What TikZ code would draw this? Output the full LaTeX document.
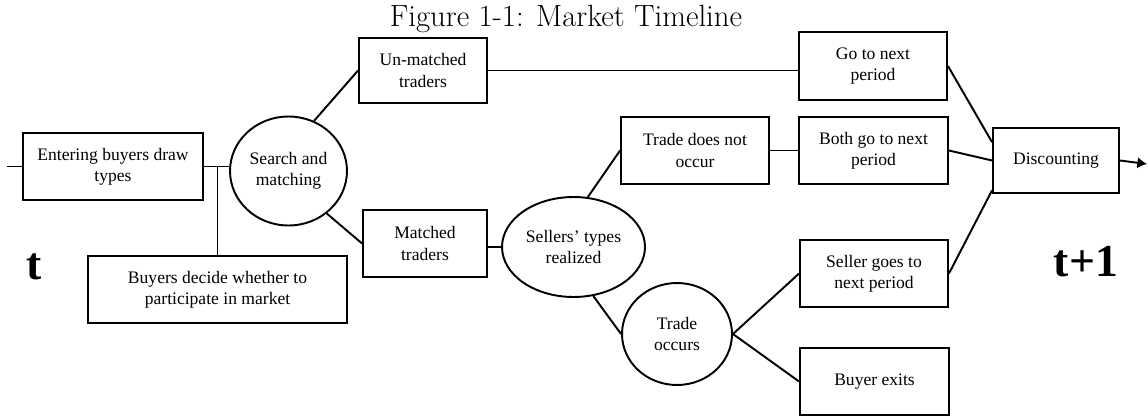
\documentclass[tikz,border=0pt]{standalone}
\usepackage{fontspec}
\newfontfamily\timesfont{Liberation Serif}
\usetikzlibrary{shapes.geometric, arrows.meta}

\begin{document}
\begin{tikzpicture}[
        x=0.02cm, y=-0.02cm, % координаты в пикселях
        line width=1.1pt,
        box/.style={draw, rectangle, align=center, inner sep=1pt, font=\timesfont\fontsize{10}{12}\selectfont}, % прямоугольники
        oval/.style={draw, ellipse, align=center, inner sep=0pt, font=\timesfont\fontsize{10}{12}\selectfont}, % овалы
        period/.style={font=\timesfont\bfseries\fontsize{26}{30}\selectfont},
    ]
    \useasboundingbox (0,0) rectangle (1148,419);

    \node[anchor=north, inner sep=0pt] (title) at (566,4) {\fontsize{17.5}{20}\selectfont Figure 1-1: Market Timeline};
    \node[period] (t0) at (34,267) {t};
    \node[period] (t1) at (1086,262) {t+1};

    \node[box, minimum width=3.6cm, minimum height=1.34cm] (enter) at (113,166.5) {Entering buyers draw\\types};
    \node[box, minimum width=5.18cm, minimum height=1.34cm] (buyers) at (217.5,289.5) {Buyers decide whether to\\participate in market};
    \node[oval, minimum width=2.34cm, minimum height=2.18cm] (search) at (288.5,171) {Search and\\matching};
    \node[box, minimum width=2.56cm, minimum height=1.3cm] (unmatched) at (423,70.5) {Un-matched\\traders};
    \node[box, minimum width=2.48cm, minimum height=1.34cm] (matched) at (425,243.5) {Matched\\traders};
    \node[oval, minimum width=2.86cm, minimum height=2cm] (sellers) at (573.5,247) {Sellers’ types\\realized};
    \node[box, minimum width=2.96cm, minimum height=1.34cm] (nottrade) at (695,150.5) {Trade does not\\occur};
    \node[oval, minimum width=2.2cm, minimum height=2.04cm] (trade) at (677,334) {Trade\\occurs};
    \node[box, minimum width=2.96cm, minimum height=1.36cm] (gonext) at (873,66) {Go to next\\period};
    \node[box, minimum width=2.98cm, minimum height=1.34cm] (bothgo) at (873.5,150.5) {Both go to next\\period};
    \node[box, minimum width=2.96cm, minimum height=1.34cm] (sellergo) at (874,273.5) {Seller goes to\\next period};
    \node[box, minimum width=2.98cm, minimum height=1.34cm] (buyerexit) at (874.5,381.5) {Buyer exits};
    \node[box, minimum width=2.52cm, minimum height=1.3cm] (disc) at (1056,160.5) {Discounting};

    \coordinate (in) at (7,166.5);
    \coordinate (out) at (1147,164);

    % связи
    \draw (in) -- (enter.west);
    \draw (enter.east) -- (enter.east -| search.west);
    \draw (buyers.north) -- (buyers.north |- enter.east);
    \draw (search.63) -- (unmatched.west);
    \draw (search.-48) -- (matched.west);
    \draw (unmatched.east) -- (unmatched.east -| gonext.west);
    \draw (matched.east |- sellers.west) -- (sellers.west);
    \draw (sellers.74) -- (nottrade.west);
    \draw (sellers.-68) -- (trade.west);
    \draw (nottrade) -- (bothgo);
    \draw (trade.east) -- (sellergo.west);
    \draw (trade.east) -- (buyerexit.west);
    \draw (gonext.east) -- (disc.164);
    \draw (bothgo.east) -- (disc.west);
    \draw (sellergo.east) -- (disc.205);
    \draw[-{Latex[length=5.5pt, width=6.5pt]}] (disc.east) -- (out);
\end{tikzpicture}
\end{document}
